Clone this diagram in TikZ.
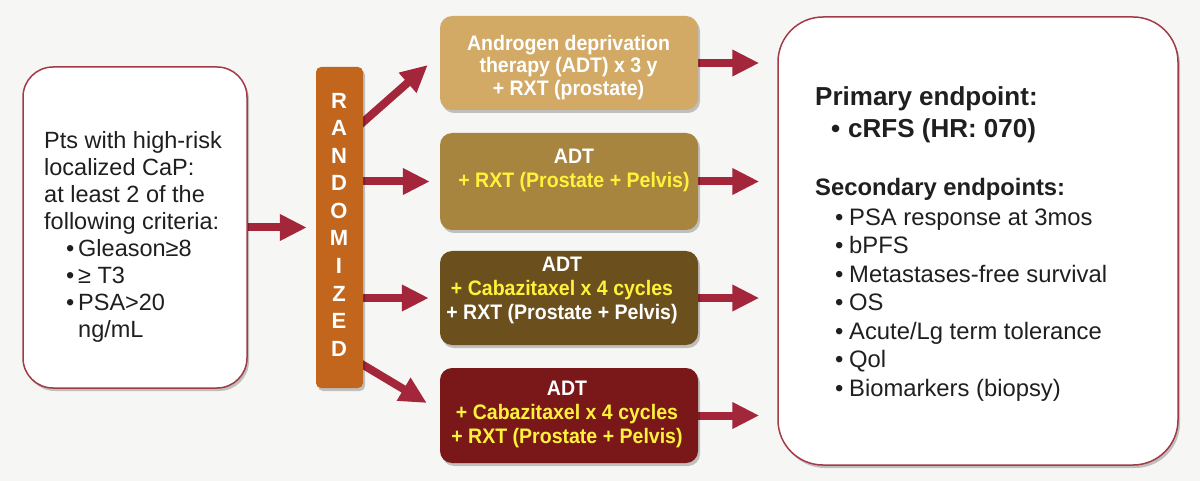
\documentclass[tikz,border=0pt]{standalone}
\usepackage{fontspec}
\setmainfont{Liberation Sans}
\newfontfamily\armfont[FakeStretch=0.93]{Liberation Sans}
\usetikzlibrary{arrows.meta,shadows,calc}
\definecolor{bgc}{HTML}{F6F6F4}
\definecolor{boxred}{HTML}{A23A48}
\definecolor{arrowred}{HTML}{A3263B}
\definecolor{randfill}{HTML}{C2661E}
\definecolor{armA}{HTML}{D2AA66}
\definecolor{armB}{HTML}{A8853F}
\definecolor{armC}{HTML}{6B4F1D}
\definecolor{armD}{HTML}{7A1719}
\definecolor{ytext}{HTML}{FFF23A}
\pgfdeclarelayer{bglayer}
\pgfdeclarelayer{arrowlayer}
\pgfsetlayers{bglayer,arrowlayer,main}
\begin{document}
\begin{tikzpicture}[x=1pt,y=-1pt,
  shadowed/.style={drop shadow={shadow xshift=2pt,shadow yshift=-3pt,opacity=0.22,fill=black}},
  whitebox/.style={draw=boxred,line width=1.5pt,fill=white,inner sep=0pt,shadowed},
  armbox/.style={rounded corners=12pt,inner sep=0pt,minimum width=258pt,shadowed},
  armtext/.style={text=white,align=center,inner sep=0pt,anchor=north,
    font=\armfont\bfseries\fontsize{21}{24}\selectfont},
  arr/.style={draw=arrowred,line width=8pt,-{Triangle[length=27pt,width=25pt]}},
  bodytext/.style={align=left,inner sep=0pt,anchor=north west,text=black!88}
]
\begin{pgfonlayer}{bglayer}
\fill[bgc] (0,0) rectangle (1200,481);
\end{pgfonlayer}
\useasboundingbox (0,0) rectangle (1200,481);

% left box
\node[whitebox,rounded corners=30pt,minimum width=224pt,minimum height=321pt] (pts) at (135,227.5) {};
\node[bodytext,font=\fontsize{23.5}{27}\selectfont] (ptstext) at (44,128)
 {\rule{0pt}{20pt}Pts with high-risk\\
  localized CaP:\\
  at least 2 of the\\
  following criteria:\\
  \hspace*{22pt}\makebox[12pt][l]{•}Gleason≥8\\
  \hspace*{22pt}\makebox[12pt][l]{•}≥ T3\\
  \hspace*{22pt}\makebox[12pt][l]{•}PSA>20\\
  \hspace*{34pt}ng/mL};

% randomized
\node[fill=randfill,rounded corners=5pt,minimum width=47pt,minimum height=321pt,inner sep=0pt,shadowed] (rand) at (339.5,227.5) {};
\node[text=white,align=center,inner sep=0pt,anchor=north,font=\bfseries\fontsize{22}{27.55}\selectfont] (randtext) at (339,88)
 {\rule{0pt}{20pt}R\\A\\N\\D\\O\\M\\I\\Z\\E\\D};

% arm boxes
\node[armbox,fill=armA,minimum height=94pt] (arm1) at (569,63) {};
\node[armtext,font=\armfont\bfseries\fontsize{21}{22.5}\selectfont] (arm1t) at (568.5,30) {\rule{0pt}{20pt}Androgen deprivation\\therapy (ADT) x 3 y\\+ RXT (prostate)};

\node[armbox,fill=armB,minimum height=97pt] (arm2) at (569,181.5) {};
\node[armtext] (arm2t) at (574,143) {\rule{0pt}{20pt}ADT\\\textcolor{ytext}{+ RXT (Prostate + Pelvis)}};

\node[armbox,fill=armC,minimum height=94pt] (arm3) at (569,298) {};
\node[armtext] (arm3t) at (562,251) {\rule{0pt}{20pt}ADT\\\textcolor{ytext}{+ Cabazitaxel x 4 cycles}\\+ RXT (Prostate + Pelvis)};

\node[armbox,fill=armD,minimum height=95pt] (arm4) at (569,415.5) {};
\node[armtext] (arm4t) at (567,375) {\rule{0pt}{20pt}ADT\\\textcolor{ytext}{+ Cabazitaxel x 4 cycles}\\\textcolor{ytext}{+ RXT (Prostate + Pelvis)}};

% results box
\node[whitebox,rounded corners=45pt,minimum width=400pt,minimum height=448pt] (res) at (978,241) {};
\node[bodytext,font=\bfseries\fontsize{26}{32}\selectfont] (prim) at (815,83)
 {\rule{0pt}{22pt}Primary endpoint:\\
  \hspace*{16pt}\makebox[17pt][l]{•}cRFS (HR: 070)};
\node[bodytext,font=\fontsize{23.8}{28.5}\selectfont] (sec) at (815,173)
 {\rule{0pt}{22pt}\textbf{Secondary endpoints:}\\[1.5pt]
  \hspace*{20pt}\makebox[14pt][l]{•}PSA response at 3mos\\
  \hspace*{20pt}\makebox[14pt][l]{•}bPFS\\
  \hspace*{20pt}\makebox[14pt][l]{•}Metastases-free survival\\
  \hspace*{20pt}\makebox[14pt][l]{•}OS\\
  \hspace*{20pt}\makebox[14pt][l]{•}Acute/Lg term tolerance\\
  \hspace*{20pt}\makebox[14pt][l]{•}Qol\\
  \hspace*{20pt}\makebox[14pt][l]{•}Biomarkers (biopsy)};

% connectors
\begin{pgfonlayer}{arrowlayer}
\draw[arr,shorten >=9pt] (pts.east) -- (pts.east -| rand.west);
\draw[arr] ([xshift=-6pt,yshift=100.2pt]rand.east) -- ([xshift=-12pt,yshift=-2pt]arm1.west);
\draw[arr,shorten >=10pt] (rand.east |- arm2.west) -- (arm2.west);
\draw[arr,shorten >=11pt] (rand.east |- arm3.west) -- (arm3.west);
\draw[arr] ([xshift=-6pt,yshift=-133.9pt]rand.east) -- ([xshift=-13pt,yshift=12.5pt]arm4.west);
\draw[arr,shorten >=18pt] (arm1.east) -- (arm1.east -| res.west);
\draw[arr,shorten >=18pt] (arm2.east) -- (arm2.east -| res.west);
\draw[arr,shorten >=18pt] (arm3.east) -- (arm3.east -| res.west);
\draw[arr,shorten >=18pt] (arm4.east) -- (arm4.east -| res.west);
\end{pgfonlayer}
\end{tikzpicture}
\end{document}
